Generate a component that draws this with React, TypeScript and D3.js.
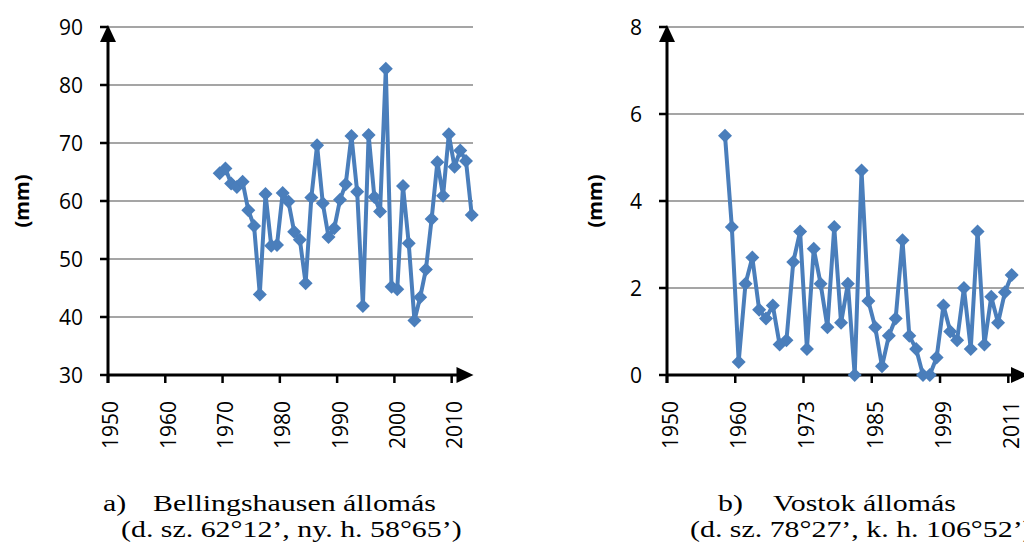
import React from "react";
import * as d3 from "d3";

// ---------- Data ----------
// a) Bellingshausen: yearly categories 1950..2013, data 1969..2013
const bellCategories: number[] = d3.range(1950, 2014);
const bellFirstYear = 1969;
const bellValues: number[] = [
  64.8, 65.6, 63.0, 62.4, 63.3, 58.4, 55.7, 43.9, 61.2, 52.3,
  52.4, 61.4, 59.9, 54.7, 53.3, 45.8, 60.6, 69.6, 59.6, 53.8,
  55.3, 60.2, 62.9, 71.2, 61.6, 41.9, 71.4, 60.7, 58.2, 82.8,
  45.2, 44.8, 62.6, 52.7, 39.4, 43.4, 48.2, 56.9, 66.7, 60.9,
  71.5, 65.9, 68.7, 66.9, 57.6,
];
const bellYTicks: number[] = [30, 40, 50, 60, 70, 80, 90];
const bellTickLabels: string[] = ["1950", "1960", "1970", "1980", "1990", "2000", "2010"];

// b) Vostok: 51 categories, labelled every 10th
const vostokCategories: number[] = d3.range(0, 51);
const vostokTickLabels: string[] = ["1950", "1960", "1973", "1985", "1999", "2011"];
const vostokFirstIndex = 8;
const vostokValues: number[] = [
  5.5, 3.4, 0.3, 2.1, 2.7, 1.5, 1.3, 1.6, 0.7, 0.8,
  2.6, 3.3, 0.6, 2.9, 2.1, 1.1, 3.4, 1.2, 2.1, 0.0,
  4.7, 1.7, 1.1, 0.2, 0.9, 1.3, 3.1, 0.9, 0.6, 0.0,
  0.0, 0.4, 1.6, 1.0, 0.8, 2.0, 0.6, 3.3, 0.7, 1.8,
  1.2, 1.9, 2.3,
];
const vostokYTicks: number[] = [0, 2, 4, 6, 8];

const BLUE = "#4a7ebb";
const GRID = "#878787";
const AXIS_FONT = "'Open Sans', sans-serif";
const SERIF = "'Liberation Serif', 'Times New Roman', serif";

type PanelProps = {
  categories: number[];
  firstIndex: number;
  values: number[];
  yTicks: number[];
  tickLabels: string[];
  x0: number;
  catWidth: number;
  yTop: number;
  yBottom: number;
  axisTip: number;
  gridEnd: number;
  labelRight: number;
  titleX: number;
};

function Panel(p: PanelProps) {
  const n = p.categories.length;
  const x = d3
    .scaleBand<number>()
    .domain(p.categories)
    .range([p.x0, p.x0 + n * p.catWidth])
    .paddingInner(0)
    .paddingOuter(0);
  const y = d3
    .scaleLinear()
    .domain([p.yTicks[0], p.yTicks[p.yTicks.length - 1]])
    .range([p.yBottom, p.yTop]);
  const cx = (i: number) => (x(p.categories[i]) as number) + x.bandwidth() / 2;
  const pts = p.values.map((v, k) => [cx(p.firstIndex + k), y(v)] as [number, number]);
  const line = d3.line<[number, number]>().x((d) => d[0]).y((d) => d[1]);
  const tickIdx = p.tickLabels.map((_, i) => i * 10);
  const arrowLen = 17;
  const arrowHalf = 8;
  const r = 7;
  return (
    <g>
      {p.yTicks.slice(1).map((t) => (
        <line key={"g" + t} x1={p.x0} x2={p.gridEnd} y1={y(t)} y2={y(t)} stroke={GRID} strokeWidth={1.5} />
      ))}
      {p.yTicks.map((t) => (
        <line key={"yt" + t} x1={p.x0 - 8} x2={p.x0} y1={y(t)} y2={y(t)} stroke="#000" strokeWidth={2.5} />
      ))}
      {p.yTicks.map((t) => (
        <text
          key={"yl" + t}
          x={p.labelRight}
          y={y(t)}
          dy="0.36em"
          textAnchor="end"
          fontFamily={AXIS_FONT}
          fontSize={21}
          fill="#000"
        >
          {t}
        </text>
      ))}
      <line x1={p.x0} x2={p.x0} y1={p.yBottom + 8} y2={p.yTop + 10} stroke="#000" strokeWidth={3} />
      <path
        d={`M${p.x0},${p.yTop - 2} L${p.x0 + arrowHalf},${p.yTop - 2 + arrowLen} L${p.x0 - arrowHalf},${p.yTop - 2 + arrowLen} Z`}
        fill="#000"
      />
      <line x1={p.x0} x2={p.axisTip - 10} y1={p.yBottom} y2={p.yBottom} stroke="#000" strokeWidth={3} />
      <path
        d={`M${p.axisTip},${p.yBottom} L${p.axisTip - arrowLen},${p.yBottom - arrowHalf} L${p.axisTip - arrowLen},${p.yBottom + arrowHalf} Z`}
        fill="#000"
      />
      {tickIdx.map((i, j) => {
        const tx = x(p.categories[i]) as number;
        const lx = cx(i);
        return (
          <g key={"xt" + i}>
            <line x1={tx} x2={tx} y1={p.yBottom} y2={p.yBottom + 8} stroke="#000" strokeWidth={2.5} />
            <text
              transform={`translate(${lx},${p.yBottom + 26}) rotate(-90)`}
              dy="0.36em"
              textAnchor="end"
              fontFamily={AXIS_FONT}
              fontSize={21}
              fill="#000"
            >
              {p.tickLabels[j]}
            </text>
          </g>
        );
      })}
      <text
        transform={`translate(${p.titleX},${(p.yTop + p.yBottom) / 2}) rotate(-90)`}
        dy="0.36em"
        textAnchor="middle"
        fontFamily={AXIS_FONT}
        fontWeight="bold"
        fontSize={20}
        fill="#000"
      >
        (mm)
      </text>
      <path d={line(pts) || ""} fill="none" stroke={BLUE} strokeWidth={4} strokeLinejoin="round" />
      {pts.map((d, k) => (
        <path
          key={"m" + k}
          d={`M${d[0]},${d[1] - r} L${d[0] + r},${d[1]} L${d[0]},${d[1] + r} L${d[0] - r},${d[1]} Z`}
          fill={BLUE}
        />
      ))}
    </g>
  );
}

function Caption({ x, y, text }: { x: number; y: number; text: string }) {
  return (
    <text transform={`translate(${x},${y}) scale(1.3,1)`} fontFamily={SERIF} fontSize={23} fill="#000">
      {text}
    </text>
  );
}

export default function App() {
  return (
    <svg
      width={1024}
      height={551}
      viewBox="0 0 1024 551"
      style={{ position: "absolute", left: 0, top: 0, background: "#fff" }}
    >
      <rect x={0} y={0} width={1024} height={551} fill="#fff" />
      <Panel
        categories={bellCategories}
        firstIndex={bellFirstYear - bellCategories[0]}
        values={bellValues}
        yTicks={bellYTicks}
        tickLabels={bellTickLabels}
        x0={108}
        catWidth={5.728}
        yTop={27}
        yBottom={375}
        axisTip={473.5}
        gridEnd={473}
        labelRight={83}
        titleX={22}
      />
      <Panel
        categories={vostokCategories}
        firstIndex={vostokFirstIndex}
        values={vostokValues}
        yTicks={vostokYTicks}
        tickLabels={vostokTickLabels}
        x0={667}
        catWidth={6.826}
        yTop={27}
        yBottom={375}
        axisTip={1028}
        gridEnd={1030}
        labelRight={642}
        titleX={595}
      />
      <Caption x={103} y={511} text="a)" />
      <Caption x={153} y={511} text="Bellingshausen állomás" />
      <Caption x={121} y={537} text="(d. sz. 62°12’, ny. h. 58°65’)" />
      <Caption x={718} y={511} text="b)" />
      <Caption x={773} y={511} text="Vostok állomás" />
      <Caption x={690} y={537} text="(d. sz. 78°27’, k. h. 106°52’)" />
    </svg>
  );
}
